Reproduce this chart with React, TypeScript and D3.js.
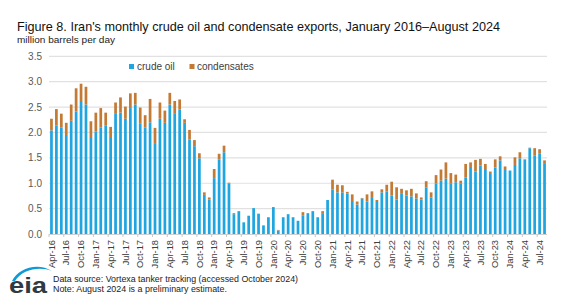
import React from "react";
import * as d3 from "d3";

// monthly exports, April 2016 through August 2024 (million barrels per day)
const crudeOil = [
  2.04, 2.14, 2.1, 1.95, 2.23, 2.41, 2.62, 2.55, 1.91, 2.02, 2.1, 2.14, 1.91, 2.38, 2.39, 2.27,
  2.48, 2.55, 2.17, 2.1, 2.2, 1.79, 2.27, 2.19, 2.55, 2.38, 2.45, 2.19, 1.86, 1.73, 1.49, 0.77, 0.68,
  1.1, 1.47, 1.61, 0.99, 0.39, 0.45, 0.23, 0.36, 0.51, 0.4, 0.17, 0.33, 0.53, 0.07, 0.33, 0.39, 0.33,
  0.26, 0.36, 0.41, 0.45, 0.33, 0.41, 0.67, 0.88, 0.82, 0.82, 0.8, 0.65, 0.58, 0.7, 0.64, 0.71, 0.65,
  0.82, 0.84, 0.76, 0.68, 0.79, 0.76, 0.74, 0.7, 0.68, 0.92, 0.72, 0.99, 1.05, 1.09, 1.0, 1.02, 0.99,
  1.11, 1.32, 1.23, 1.35, 1.28, 1.2, 1.31, 1.45, 1.26, 1.25, 1.36, 1.49, 1.47, 1.69, 1.55, 1.59, 1.38,
];

const condensates = [
  0.23, 0.32, 0.27, 0.24, 0.32, 0.46, 0.34, 0.35, 0.31, 0.37, 0.38, 0.25, 0.2, 0.21, 0.3, 0.24,
  0.29, 0.23, 0.32, 0.24, 0.46, 0.3, 0.32, 0.24, 0.23, 0.24, 0.2, 0.07, 0.19, 0.12, 0.1, 0.05, 0.04,
  0.18, 0.11, 0.13, 0.02, 0.02, 0, 0, 0, 0, 0, 0, 0, 0, 0.01, 0, 0, 0,
  0, 0.07, 0, 0, 0, 0.04, 0, 0.19, 0.15, 0.14, 0.03, 0.13, 0.06, 0.01, 0.14, 0.13, 0.02,
  0.06, 0.13, 0.27, 0.24, 0.1, 0.1, 0.15, 0.1, 0.04, 0.12, 0.1, 0.17, 0.22, 0.32, 0.2, 0.15, 0.06,
  0.27, 0.09, 0.23, 0.13, 0.1, 0.03, 0.16, 0.08, 0.07, 0, 0.15, 0.12, 0, 0.01, 0.14, 0.08, 0.07,
];

const yTicks = [0, 0.5, 1, 1.5, 2, 2.5, 3, 3.5];

const months = d3.timeMonth.range(new Date(2016, 3, 1), new Date(2024, 8, 1));
const fmtMonth = d3.timeFormat("%b-%y");

const CRUDE = "#1fa5e0";
const COND = "#c27a35";
const FONT = "'Liberation Sans', Arial, sans-serif";

export default function App() {
  const width = 568;
  const height = 301;
  const left = 49;
  const right = 547;
  const top = 56.3;
  const bottom = 234;

  const x = d3
    .scaleBand<number>()
    .domain(crudeOil.map((_, i) => i))
    .range([left, right])
    .paddingInner(0.45)
    .paddingOuter(0.225);
  const y = d3.scaleLinear().domain([0, 3.5]).range([bottom, top]);
  const step = x.step();
  const bw = x.bandwidth();

  const tickIdx = months.map((_, i) => i).filter((i) => i % 3 === 0);

  return (
    <div style={{ position: "absolute", left: 0, top: 0 }}>
      <svg width={width} height={height} style={{ display: "block", fontFamily: FONT }}>
        <rect width={width} height={height} fill="#fff" />

        <text x={17} y={31} fontSize={13.5} fill="#111" textLength={483} lengthAdjust="spacingAndGlyphs">
          Figure 8. Iran's monthly crude oil and condensate exports, January 2016–August 2024
        </text>
        <text x={17} y={43} fontSize={9} fill="#222" textLength={98} lengthAdjust="spacingAndGlyphs">
          million barrels per day
        </text>

        {/* gridlines and y labels */}
        {yTicks.map((t) => (
          <g key={t}>
            {t > 0 && (
              <line x1={left} x2={right} y1={y(t)} y2={y(t)} stroke="#e1e1e1" strokeWidth={1.2} />
            )}
            <text x={42} y={y(t)} dy="0.35em" fontSize={10} fill="#595959" textAnchor="end">
              {t.toFixed(1)}
            </text>
          </g>
        ))}

        {/* legend */}
        <rect x={129} y={64} width={5} height={5} fill={CRUDE} />
        <text x={137} y={70} fontSize={10} fill="#404040">crude oil</text>
        <rect x={189.5} y={64} width={5} height={5} fill={COND} />
        <text x={197} y={70} fontSize={10} fill="#404040">condensates</text>

        {/* stacked bars */}
        {crudeOil.map((c, i) => {
          const xi = x(i) as number;
          return (
            <g key={i}>
              <rect x={xi} y={y(c)} width={bw} height={y(0) - y(c)} fill={CRUDE} />
              {condensates[i] > 0 && (
                <rect
                  x={xi}
                  y={y(c + condensates[i])}
                  width={bw}
                  height={y(c) - y(c + condensates[i])}
                  fill={COND}
                />
              )}
            </g>
          );
        })}

        {/* category axis */}
        <line x1={left} x2={right} y1={bottom + 0.5} y2={bottom + 0.5} stroke="#d0d0d0" />
        {d3.range(0, crudeOil.length + 1, 3).map((k) => {
          const xt = left + k * step;
          return <line key={k} x1={xt} x2={xt} y1={bottom} y2={bottom + 3} stroke="#c8c8c8" />;
        })}
        {tickIdx.map((i) => {
          const cx = (x(i) as number) + bw / 2;
          return (
            <text
              key={i}
              transform={`translate(${cx + 3.2},240) rotate(-90)`}
              fontSize={9.3}
              fill="#404040"
              textAnchor="end"
            >
              {fmtMonth(months[i])}
            </text>
          );
        })}

        {/* eia logo */}
        <path
          d="M12,281 C18,268 38,262 52,271 C40,266 22,269 15,281 Z"
          fill="#0d9ad6"
        />
        <text x={9} y={293} fontSize={22} fontWeight="bold" fill="#2f3a44" textLength={38} lengthAdjust="spacingAndGlyphs">
          eia
        </text>

        {/* notes */}
        <text x={53} y={282} fontSize={9.5} fill="#222" textLength={245} lengthAdjust="spacingAndGlyphs">
          Data source: Vortexa tanker tracking (accessed October 2024)
        </text>
        <text x={53} y={292} fontSize={9.5} fill="#222" textLength={174} lengthAdjust="spacingAndGlyphs">
          Note: August 2024 is a preliminary estimate.
        </text>
      </svg>
    </div>
  );
}
